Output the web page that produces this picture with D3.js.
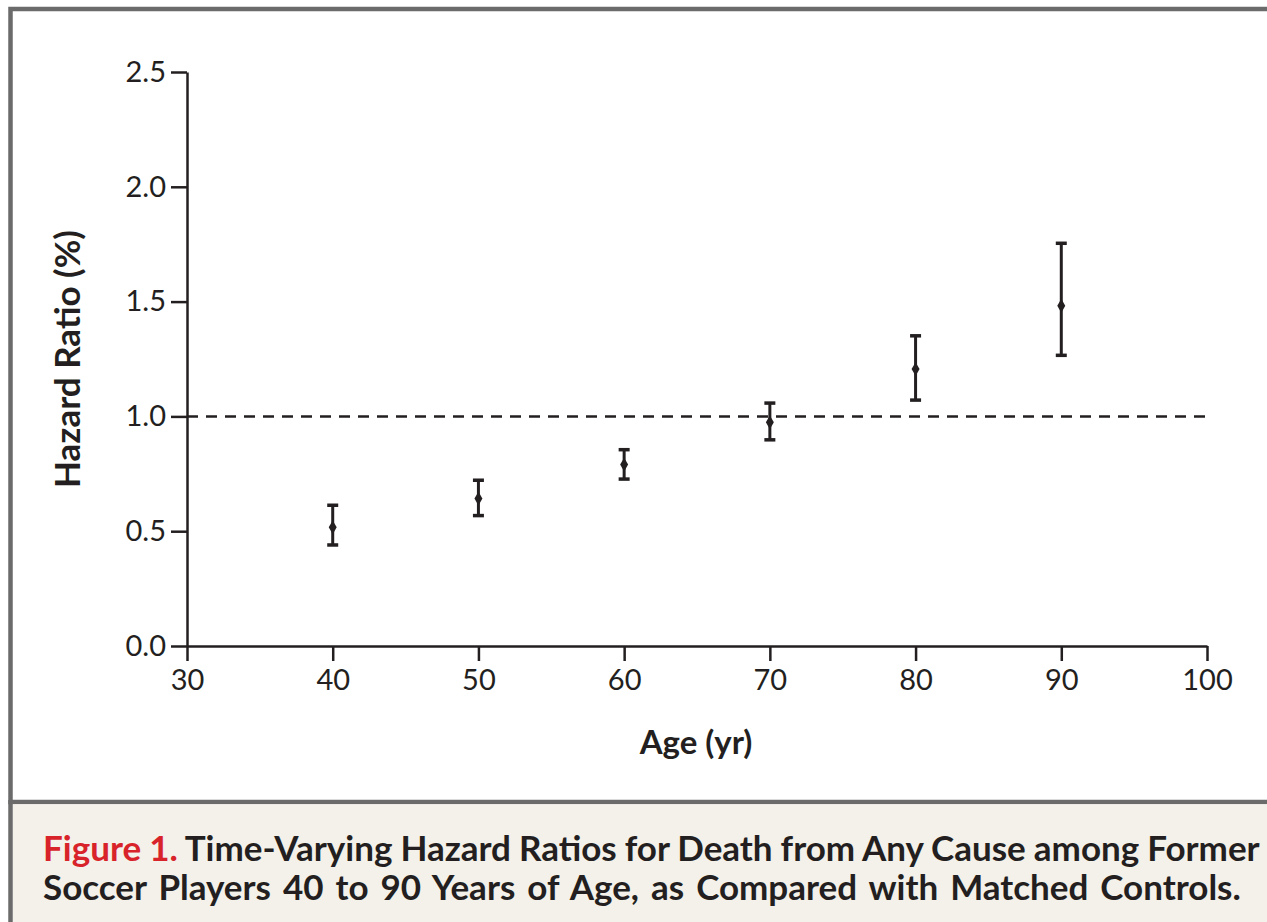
<!DOCTYPE html>
<html>
<head>
<meta charset="utf-8">
<script src="https://cdn.jsdelivr.net/npm/d3@7"></script>
<style>
  body { margin: 0; background: #fff; }
  text { font-family: Lato, "Open Sans", sans-serif; }
</style>
</head>
<body>
<div id="chart"></div>
<script>
// Hazard ratios by age
const ages      = [40, 50, 60, 70, 80, 90];
const hazard    = [0.517, 0.642, 0.790, 0.974, 1.206, 1.482];
const ci_low    = [0.440, 0.568, 0.727, 0.898, 1.071, 1.266];
const ci_high   = [0.613, 0.722, 0.855, 1.058, 1.351, 1.754];
const x_ticks   = [30, 40, 50, 60, 70, 80, 90, 100];
const y_ticks   = [0, 0.5, 1.0, 1.5, 2.0, 2.5];
const reference = 1.0;
const caption_label = 'Figure 1.';
const caption_lines = [
  'Time-Varying Hazard Ratios for Death from Any Cause among Former',
  'Soccer Players 40 to 90 Years of Age, as Compared with Matched Controls.'
];

const width = 1267, height = 922;

const svg = d3.select('#chart').append('svg')
  .attr('viewBox', [0, 0, width, height])
  .attr('width', width)
  .attr('height', height);

// frame + caption panel
svg.append('rect').attr('x', 10.5).attr('y', 9).attr('width', width + 20).attr('height', 793)
  .attr('fill', '#fff').attr('stroke', '#6b6b6b').attr('stroke-width', 4.5);
svg.append('rect').attr('x', 12.75).attr('y', 804.25).attr('width', width).attr('height', height - 804)
  .attr('fill', '#f4f0ea');
svg.append('line').attr('x1', 10.5).attr('x2', 10.5).attr('y1', 800).attr('y2', 922)
  .attr('stroke', '#6b6b6b').attr('stroke-width', 4.5);

// scales
const x = d3.scaleLinear().domain([30, 100]).range([187, 1207]);
const y = d3.scaleLinear().domain([0, 2.5]).range([646, 72]);

const ink = '#231f20';

// axes
const xAxis = svg.append('g').attr('transform', `translate(0,${y(0)})`)
  .call(d3.axisBottom(x).tickValues(x_ticks).tickSize(15).tickPadding(8).tickSizeOuter(0).tickFormat(d3.format('d')));
const yAxis = svg.append('g').attr('transform', `translate(${x(30)},0)`)
  .call(d3.axisLeft(y).tickValues(y_ticks).tickSize(16).tickPadding(5).tickSizeOuter(0).tickFormat(d3.format('.1f')));

[xAxis, yAxis].forEach(g => {
  g.select('.domain').attr('stroke', ink).attr('stroke-width', 2.5);
  g.selectAll('.tick line').attr('stroke', ink).attr('stroke-width', 2.5);
  g.selectAll('.tick text').attr('fill', ink).attr('font-size', 29)
    .attr('font-family', 'Lato, sans-serif');
});
xAxis.selectAll('.tick text').attr('dy', '0.71em');

// reference line at 1.0
svg.append('line')
  .attr('x1', x(30)).attr('x2', x(100))
  .attr('y1', y(reference)).attr('y2', y(reference))
  .attr('stroke', ink).attr('stroke-width', 2.5).attr('stroke-dasharray', '11,8');

// error bars
const rows = ages.map((a, i) => ({ age: a, hr: hazard[i], lo: ci_low[i], hi: ci_high[i] }));
const bars = svg.append('g').selectAll('g').data(rows).join('g');

bars.append('line')
  .attr('x1', d => x(d.age)).attr('x2', d => x(d.age))
  .attr('y1', d => y(d.hi)).attr('y2', d => y(d.lo))
  .attr('stroke', ink).attr('stroke-width', 3);
bars.selectAll('.cap').data(d => [[d.age, d.hi], [d.age, d.lo]]).join('line')
  .attr('class', 'cap')
  .attr('x1', d => x(d[0]) - 5.5).attr('x2', d => x(d[0]) + 5.5)
  .attr('y1', d => y(d[1])).attr('y2', d => y(d[1]))
  .attr('stroke', ink).attr('stroke-width', 3.5);
bars.append('path')
  .attr('transform', d => `translate(${x(d.age)},${y(d.hr)})`)
  .attr('d', d3.symbol(d3.symbolDiamond, 55))
  .attr('fill', ink);

// axis titles
svg.append('text')
  .attr('transform', `translate(80,${(y(0) + y(2.5)) / 2}) rotate(-90)`)
  .attr('text-anchor', 'middle')
  .attr('font-size', 35).attr('font-weight', 'bold').attr('fill', ink)
  .text('Hazard Ratio (%)');
svg.append('text')
  .attr('x', 696).attr('y', 754)
  .attr('text-anchor', 'middle')
  .attr('font-size', 33).attr('font-weight', 'bold').attr('fill', ink)
  .text('Age (yr)');

// caption
const cap = svg.append('g').attr('font-size', 35).attr('font-weight', 'bold').attr('fill', ink);
const line1 = cap.append('text').attr('x', 43).attr('y', 861).attr('word-spacing', -0.5);
line1.append('tspan').attr('fill', '#d8232a').text(caption_label + ' ');
line1.append('tspan').text(caption_lines[0]);
cap.append('text').attr('x', 43).attr('y', 900).attr('word-spacing', 3.5).text(caption_lines[1]);
</script>
</body>
</html>
